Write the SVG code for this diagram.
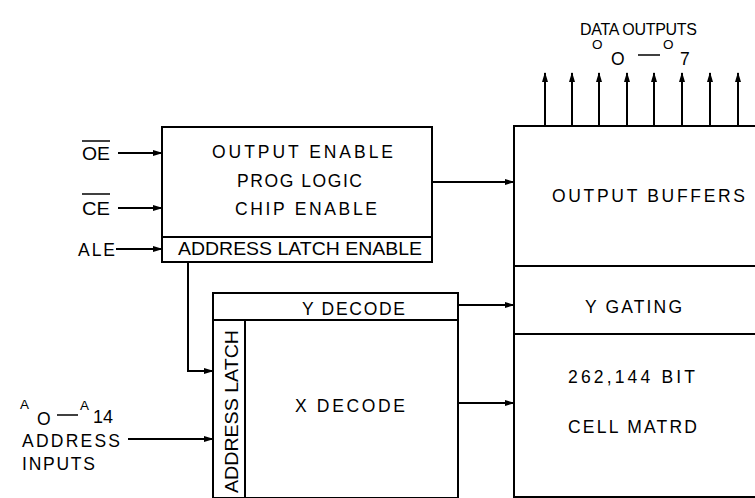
<svg xmlns="http://www.w3.org/2000/svg" width="755" height="498" viewBox="0 0 755 498">
<style>
.b{fill:none;stroke:#000;stroke-width:2}
.c{fill:none;stroke:#000;stroke-width:2}
.o{stroke:#000;stroke-width:1.5}
text{font-family:"Liberation Sans",Arial,sans-serif;font-size:17.5px;fill:#000}
.s{font-size:13.5px}
</style>
<defs>
<marker id="ah" markerWidth="10" markerHeight="8" refX="9" refY="4" orient="auto" markerUnits="userSpaceOnUse">
<path d="M0,1 L10,4 L0,7 Z" fill="#000"/>
</marker>
</defs>
<rect width="755" height="498" fill="#fff"/>

<g id="control">
<rect class="b" x="162" y="127" width="270" height="135"/>
<line class="b" x1="162" y1="237" x2="432" y2="237"/>
<text x="212" y="158" textLength="181" lengthAdjust="spacing">OUTPUT ENABLE</text>
<text x="237" y="187" textLength="125" lengthAdjust="spacing">PROG LOGIC</text>
<text x="235" y="215" textLength="142" lengthAdjust="spacing">CHIP ENABLE</text>
<text x="178" y="255" textLength="244" lengthAdjust="spacingAndGlyphs">ADDRESS LATCH ENABLE</text>
</g>

<g id="decoder">
<rect class="b" x="213" y="293" width="245" height="205"/>
<line class="b" x1="213" y1="320" x2="458" y2="320"/>
<line class="b" x1="245" y1="320" x2="245" y2="498"/>
<text x="302" y="315" textLength="103" lengthAdjust="spacing">Y DECODE</text>
<text x="295" y="412" textLength="110" lengthAdjust="spacing">X DECODE</text>
<text transform="translate(238,493) rotate(-90)" textLength="163" lengthAdjust="spacingAndGlyphs">ADDRESS LATCH</text>
</g>

<g id="memory">
<rect class="b" x="514" y="126" width="245" height="371"/>
<line class="b" x1="514" y1="266" x2="755" y2="266"/>
<line class="b" x1="514" y1="334" x2="755" y2="334"/>
<text x="552" y="202" textLength="193" lengthAdjust="spacing">OUTPUT BUFFERS</text>
<text x="585" y="313" textLength="97" lengthAdjust="spacing">Y GATING</text>
<text x="568" y="383" textLength="127" lengthAdjust="spacing">262,144 BIT</text>
<text x="568" y="433" textLength="129" lengthAdjust="spacing">CELL MATRD</text>
</g>

<g id="labels">
<text x="82" y="160" textLength="28" lengthAdjust="spacingAndGlyphs">OE</text>
<line class="o" x1="82" y1="141" x2="110" y2="141"/>
<text x="82" y="215" textLength="28" lengthAdjust="spacingAndGlyphs">CE</text>
<line class="o" x1="82" y1="194" x2="110" y2="194"/>
<text x="78" y="256" textLength="37" lengthAdjust="spacing">ALE</text>
<text class="s" x="20" y="409">A</text>
<text x="37" y="425">O</text>
<line class="o" x1="57" y1="415" x2="78" y2="415"/>
<text class="s" x="80" y="410">A</text>
<text x="93" y="423" textLength="20" lengthAdjust="spacingAndGlyphs">14</text>
<text x="22" y="447" textLength="98" lengthAdjust="spacing">ADDRESS</text>
<text x="22" y="470" textLength="73" lengthAdjust="spacing">INPUTS</text>
<text x="580" y="35" style="font-size:16px" textLength="117" lengthAdjust="spacing">DATA OUTPUTS</text>
<text class="s" x="592" y="49">O</text>
<text x="611" y="65">O</text>
<line class="o" x1="638" y1="55" x2="660" y2="55"/>
<text class="s" x="663" y="49">O</text>
<text x="680" y="65">7</text>
</g>

<g id="connectors">
<line class="c" x1="118" y1="153" x2="162" y2="153" marker-end="url(#ah)"/>
<line class="c" x1="118" y1="208" x2="162" y2="208" marker-end="url(#ah)"/>
<line class="c" x1="116" y1="249" x2="162" y2="249" marker-end="url(#ah)"/>
<line class="c" x1="432" y1="182" x2="514" y2="182" marker-end="url(#ah)"/>
<polyline class="c" points="188,262 188,371 213,371" marker-end="url(#ah)"/>
<line class="c" x1="128" y1="439" x2="213" y2="439" marker-end="url(#ah)"/>
<line class="c" x1="458" y1="305" x2="514" y2="305" marker-end="url(#ah)"/>
<line class="c" x1="458" y1="403" x2="514" y2="403" marker-end="url(#ah)"/>
<line class="c" x1="545" y1="126" x2="545" y2="73" marker-end="url(#ah)"/>
<line class="c" x1="572" y1="126" x2="572" y2="73" marker-end="url(#ah)"/>
<line class="c" x1="599" y1="126" x2="599" y2="73" marker-end="url(#ah)"/>
<line class="c" x1="627" y1="126" x2="627" y2="73" marker-end="url(#ah)"/>
<line class="c" x1="654" y1="126" x2="654" y2="73" marker-end="url(#ah)"/>
<line class="c" x1="682" y1="126" x2="682" y2="73" marker-end="url(#ah)"/>
<line class="c" x1="710" y1="126" x2="710" y2="73" marker-end="url(#ah)"/>
<line class="c" x1="738" y1="126" x2="738" y2="73" marker-end="url(#ah)"/>
</g>
</svg>
